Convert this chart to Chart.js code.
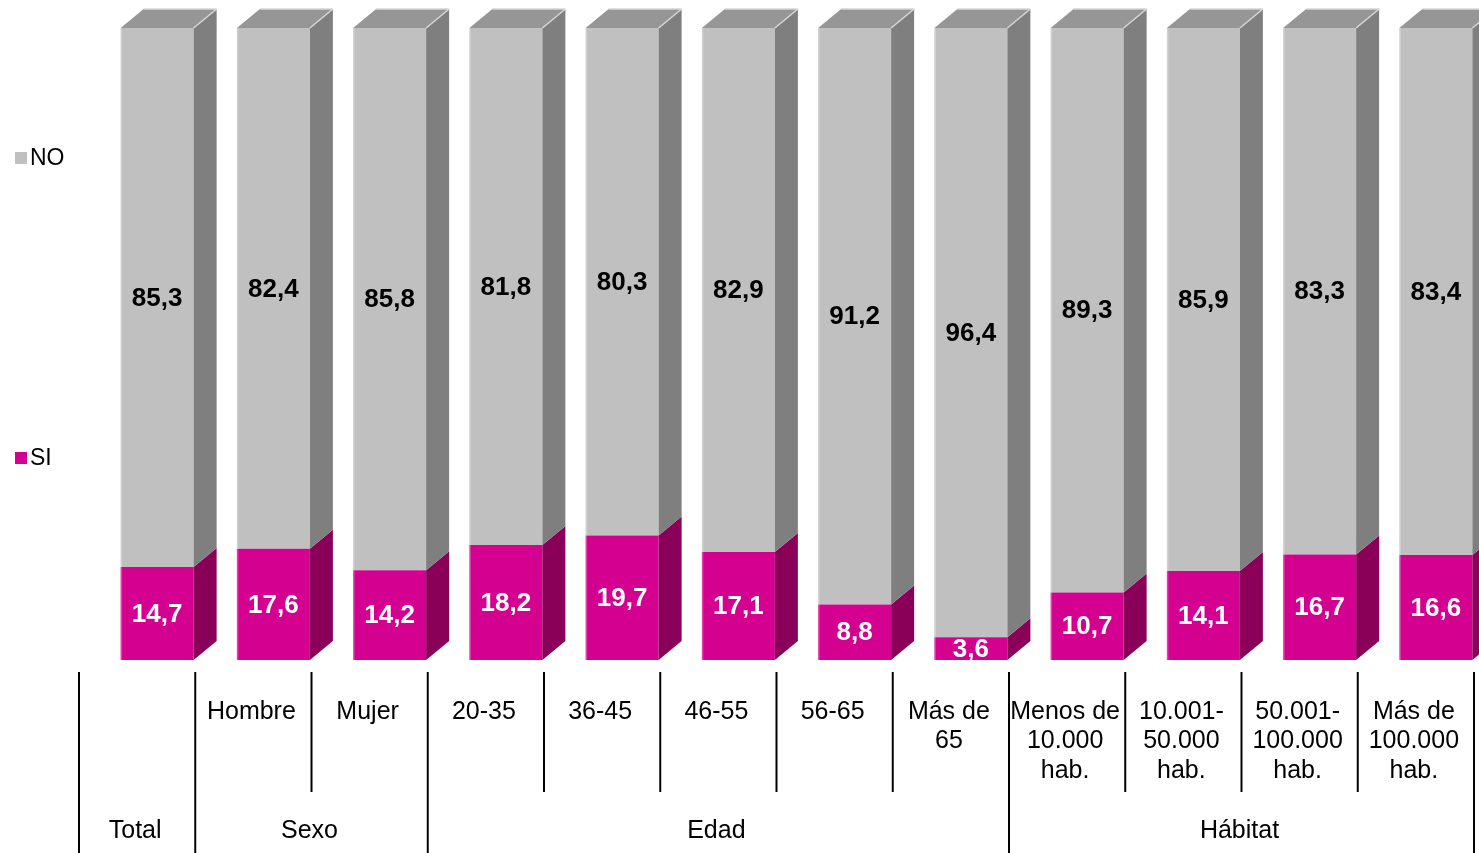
<!DOCTYPE html>
<html lang="es">
<head>
<meta charset="utf-8">
<title>SI / NO</title>
<script src="https://cdn.jsdelivr.net/npm/chart.js@4"></script>
<style>
  html, body { margin: 0; padding: 0; background: #fff; }
  #wrap { position: relative; width: 1479px; height: 853px; }
</style>
</head>
<body>
<div id="wrap"><canvas id="siNoChart"></canvas></div>
<script>
const categories = [
  '', 'Hombre', 'Mujer', '20-35', '36-45', '46-55', '56-65',
  ['Más de', '65'],
  ['Menos de', '10.000', 'hab.'],
  ['10.001-', '50.000', 'hab.'],
  ['50.001-', '100.000', 'hab.'],
  ['Más de', '100.000', 'hab.']
];
const groups = ['Total', 'Sexo', 'Edad', 'Hábitat'];
const groupStart = [0, 1, 3, 8]; // first category of each group
const siValues = [14.7, 17.6, 14.2, 18.2, 19.7, 17.1, 8.8, 3.6, 10.7, 14.1, 16.7, 16.6];
const noValues = [85.3, 82.4, 85.8, 81.8, 80.3, 82.9, 91.2, 96.4, 89.3, 85.9, 83.3, 83.4];

const FONT = '"Liberation Sans", Arial, sans-serif';
const SHIFT = 20;          // bars sit right of the slot centre (3D look)
const DX = 23, DY = 19;    // depth of the 3D faces

const colors = {
  si: { front: '#D40090', side: '#8A0058', top: '#A8006E', text: '#fff' },
  no: { front: '#C0C0C0', side: '#7F7F7F', top: '#969696', text: '#000' }
};

const fmt = v => v.toFixed(1).replace('.', ',');

// shifts the bars and draws side/top faces plus value labels
const bars3d = {
  id: 'bars3d',
  beforeDatasetsDraw(chart) {
    chart.ctx.save();
    chart.ctx.translate(SHIFT, 0);
  },
  afterDatasetsDraw(chart) {
    const ctx = chart.ctx;
    const last = chart.data.datasets.length - 1;
    chart.data.datasets.forEach((ds, di) => {
      const c = ds.faces;
      chart.getDatasetMeta(di).data.forEach((bar, i) => {
        const p = bar.getProps(['x', 'y', 'base', 'width'], true);
        const L = p.x - p.width / 2, R = p.x + p.width / 2;
        const top = Math.min(p.y, p.base), bottom = Math.max(p.y, p.base);
        // side face
        ctx.fillStyle = c.side;
        ctx.beginPath();
        ctx.moveTo(R, top); ctx.lineTo(R + DX, top - DY);
        ctx.lineTo(R + DX, bottom - DY); ctx.lineTo(R, bottom);
        ctx.closePath(); ctx.fill();
        // light left edge of the front face
        ctx.fillStyle = 'rgba(255,255,255,0.25)';
        ctx.fillRect(L, top, 1.5, bottom - top);
        if (di === last) {
          ctx.fillStyle = c.top;
          ctx.beginPath();
          ctx.moveTo(L, top); ctx.lineTo(L + DX, top - DY);
          ctx.lineTo(R + DX, top - DY); ctx.lineTo(R, top);
          ctx.closePath(); ctx.fill();
          ctx.strokeStyle = '#d6d6d6'; ctx.lineWidth = 1.5;
          ctx.beginPath();
          ctx.moveTo(L + DX, top - DY); ctx.lineTo(R + DX, top - DY);
          ctx.moveTo(R, top); ctx.lineTo(R + DX, top - DY);
          ctx.stroke();
        }
        // value label
        ctx.fillStyle = c.text;
        ctx.font = 'bold 26px ' + FONT;
        ctx.textAlign = 'center';
        ctx.textBaseline = 'middle';
        ctx.fillText(fmt(ds.data[i]), p.x, (top + bottom) / 2 + 1);
      });
    });
    ctx.restore();
  }
};

// two-level category axis and the legend on the left
const axisAndLegend = {
  id: 'axisAndLegend',
  afterDraw(chart) {
    const ctx = chart.ctx, xs = chart.scales.x, area = chart.chartArea;
    const n = chart.data.labels.length;
    const slot = xs.getPixelForValue(1) - xs.getPixelForValue(0);
    const edge = i => xs.getPixelForValue(0) + (i - 0.5) * slot;
    const b = area.bottom;
    ctx.save();
    ctx.strokeStyle = '#000';
    ctx.lineWidth = 2;
    for (let i = 0; i <= n; i++) {
      const long = i === n || groupStart.includes(i);
      ctx.beginPath();
      ctx.moveTo(edge(i), b + 12);
      ctx.lineTo(edge(i), long ? chart.height : b + 132);
      ctx.stroke();
    }
    ctx.fillStyle = '#000';
    ctx.font = '25px ' + FONT;
    ctx.textAlign = 'center';
    ctx.textBaseline = 'middle';
    chart.data.labels.forEach((lab, i) => {
      const lines = Array.isArray(lab) ? lab : [lab];
      lines.forEach((t, k) => ctx.fillText(t, xs.getPixelForValue(i) - 2, b + 52 + k * 29.5));
    });
    groups.forEach((g, gi) => {
      const from = groupStart[gi];
      const to = gi + 1 < groupStart.length ? groupStart[gi + 1] : n;
      ctx.fillText(g, (edge(from) + edge(to)) / 2 - 2, b + 171);
    });
    // legend
    ctx.textAlign = 'left';
    ctx.font = '23px ' + FONT;
    [['NO', colors.no.front, 158], ['SI', colors.si.front, 458]].forEach(([t, col, y]) => {
      ctx.fillStyle = col;
      ctx.fillRect(15, y - 6, 12, 12);
      ctx.fillStyle = '#000';
      ctx.fillText(t, 30, y + 1);
    });
    ctx.restore();
  }
};

new Chart(document.getElementById('siNoChart'), {
  type: 'bar',
  data: {
    labels: categories,
    datasets: [
      { label: 'SI', data: siValues, backgroundColor: colors.si.front, faces: colors.si, clip: false },
      { label: 'NO', data: noValues, backgroundColor: colors.no.front, faces: colors.no, clip: false }
    ]
  },
  options: {
    responsive: true,
    maintainAspectRatio: false,
    animation: false,
    events: [],
    layout: { padding: { left: 79, right: 5, top: 28, bottom: 193 } },
    datasets: { bar: { categoryPercentage: 1, barPercentage: 0.628, borderWidth: 0 } },
    plugins: { legend: { display: false }, tooltip: { enabled: false } },
    scales: {
      x: { stacked: true, display: false },
      y: { stacked: true, display: false, min: 0, max: 100 }
    }
  },
  plugins: [bars3d, axisAndLegend]
});
</script>
</body>
</html>
